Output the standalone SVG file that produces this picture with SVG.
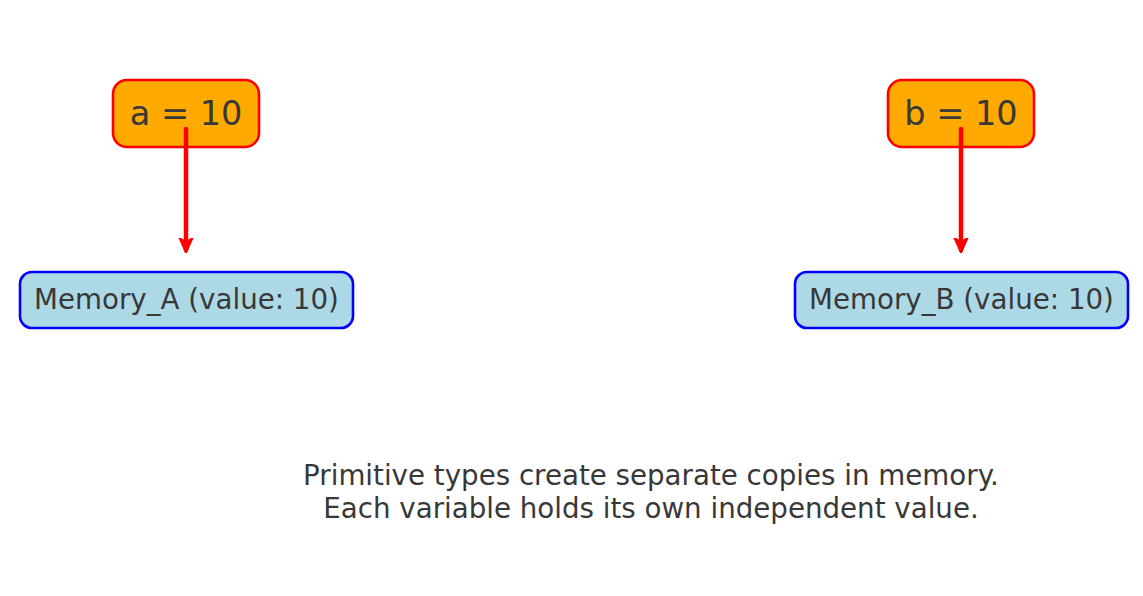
<svg xmlns="http://www.w3.org/2000/svg" width="1143" height="596" viewBox="0 0 1143 596">
  <style>
    .var { fill: #ffaa00; stroke: #ff0000; stroke-width: 2.6; }
    .mem { fill: #add8e6; stroke: #0000ff; stroke-width: 2.6; }
    .lbl { font-family: "DejaVu Sans", sans-serif; fill: #383838; text-anchor: middle; }
    .big { font-size: 33.5px; }
    .mid { font-size: 27.7px; }
    .link { stroke: #ff0000; stroke-width: 4.5; fill: none; stroke-linecap: round; }
  </style>
  <defs>
    <marker id="head" viewBox="0 0 10 10" refX="8" refY="5" markerWidth="3.4" markerHeight="3.4" markerUnits="strokeWidth" orient="auto">
      <path d="M0,0.5 L10,5 L0,9.5 L2.5,5 Z" fill="#ff0000" stroke="#ff0000" stroke-width="1" stroke-linejoin="round"/>
    </marker>
  </defs>
  <rect width="1143" height="596" fill="#ffffff"/>

  <g id="node-a">
    <rect class="var" x="113" y="80" width="146" height="67" rx="14"/>
    <text class="lbl big" x="186" y="125">a = 10</text>
  </g>
  <g id="node-b">
    <rect class="var" x="888" y="80" width="146" height="67" rx="14"/>
    <text class="lbl big" x="961" y="125">b = 10</text>
  </g>
  <g id="mem-a">
    <rect class="mem" x="20" y="272" width="333" height="56" rx="12"/>
    <text class="lbl mid" x="186.5" y="309">Memory_A (value: 10)</text>
  </g>
  <g id="mem-b">
    <rect class="mem" x="795" y="272" width="333" height="56" rx="12"/>
    <text class="lbl mid" x="961.5" y="309">Memory_B (value: 10)</text>
  </g>

  <g id="connectors">
    <line class="link" x1="186" y1="129" x2="186" y2="250" marker-end="url(#head)"/>
    <line class="link" x1="961" y1="129" x2="961" y2="250" marker-end="url(#head)"/>
  </g>

  <g id="caption">
    <text class="lbl mid" x="651" y="485">Primitive types create separate copies in memory.</text>
    <text class="lbl mid" x="651" y="518">Each variable holds its own independent value.</text>
  </g>
</svg>
